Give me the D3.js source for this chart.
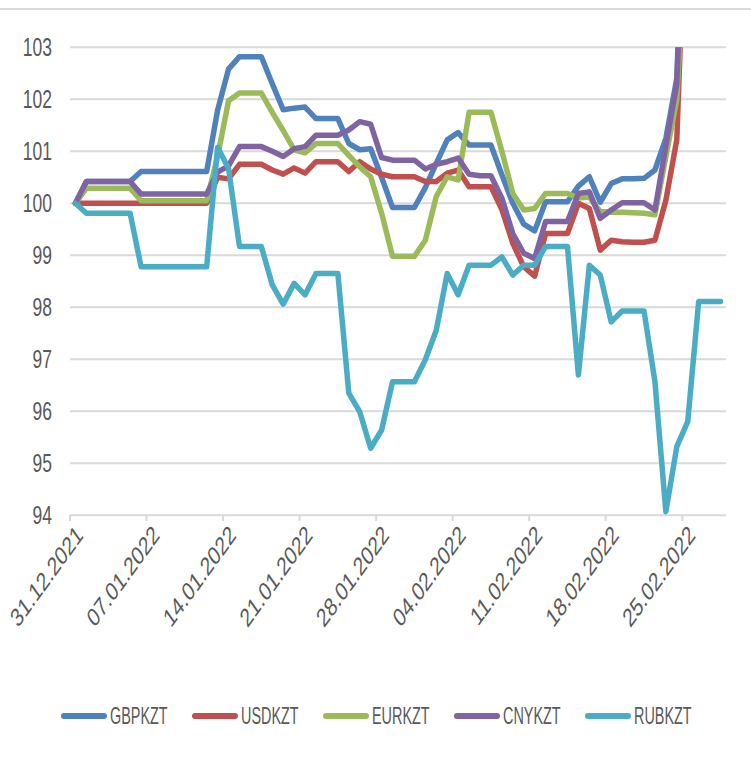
<!DOCTYPE html>
<html>
<head>
<meta charset="utf-8">
<script src="https://cdn.jsdelivr.net/npm/d3@7"></script>
<style>
  body { margin: 0; background: #fff; }
  svg { display: block; }
</style>
</head>
<body>
<svg id="chart" width="751" height="764"></svg>
<script>
// daily index, 31.12.2021 = 100 (31.12.2021 .. 28.02.2022)
const days = d3.timeDay.range(new Date(2021, 11, 31), new Date(2022, 2, 1));

const seriesNames = ["GBPKZT", "USDKZT", "EURKZT", "CNYKZT", "RUBKZT"];
const seriesColors = ["#4f81bd", "#c0504d", "#9bbb59", "#8064a2", "#4bacc6"];

// last values (from 25.02) run above the 103 axis max and are clipped, as in the source
const gbp = [100, 100.42, 100.42, 100.42, 100.42, 100.42, 100.61, 100.61, 100.61, 100.61,
  100.61, 100.61, 100.61, 101.79, 102.58, 102.82, 102.82, 102.82, 102.30, 101.80,
  101.83, 101.85, 101.63, 101.63, 101.63, 101.15, 101.03, 101.05, 100.50, 99.92,
  99.92, 99.92, 100.30, 100.77, 101.22, 101.36, 101.12, 101.12, 101.12, 100.55,
  100.00, 99.60, 99.47, 100.03, 100.03, 100.03, 100.33, 100.51, 100.02, 100.38,
  100.47, 100.47, 100.48, 100.64, 101.25, 102.40, 108.5, 110.0, 111.0, 112.5];
const usd = [100, 100.0, 100.0, 100.0, 100.0, 100.0, 100.0, 100.0, 100.0, 100.0,
  100.0, 100.0, 100.0, 100.50, 100.47, 100.75, 100.75, 100.75, 100.64, 100.56,
  100.68, 100.58, 100.80, 100.80, 100.80, 100.61, 100.80, 100.66, 100.56, 100.51,
  100.51, 100.51, 100.42, 100.42, 100.58, 100.64, 100.32, 100.32, 100.32, 99.88,
  99.23, 98.78, 98.60, 99.42, 99.42, 99.42, 100.00, 99.90, 99.10, 99.29,
  99.26, 99.25, 99.25, 99.29, 100.06, 101.22, 107.0, 108.5, 109.5, 111.0];
const eur = [100, 100.29, 100.29, 100.29, 100.29, 100.29, 100.05, 100.05, 100.05, 100.05,
  100.05, 100.05, 100.05, 100.90, 101.97, 102.12, 102.12, 102.12, 101.75, 101.40,
  101.03, 100.97, 101.15, 101.15, 101.15, 100.92, 100.70, 100.51, 99.81, 98.98,
  98.98, 98.98, 99.29, 100.13, 100.51, 100.45, 101.75, 101.75, 101.75, 101.00,
  100.19, 99.87, 99.90, 100.19, 100.19, 100.19, 100.10, 100.12, 99.84, 99.83,
  99.83, 99.82, 99.81, 99.78, 100.90, 101.99, 106.0, 107.5, 108.5, 110.0];
const cny = [100, 100.42, 100.42, 100.42, 100.42, 100.42, 100.18, 100.18, 100.18, 100.18,
  100.18, 100.18, 100.18, 100.60, 100.72, 101.09, 101.09, 101.09, 101.00, 100.90,
  101.05, 101.09, 101.31, 101.31, 101.31, 101.41, 101.57, 101.52, 100.88, 100.83,
  100.83, 100.83, 100.66, 100.75, 100.80, 100.87, 100.56, 100.53, 100.53, 100.10,
  99.42, 99.04, 98.94, 99.65, 99.65, 99.65, 100.19, 100.22, 99.71, 99.87,
  100.01, 100.01, 100.01, 99.87, 101.10, 102.30, 107.5, 109.0, 110.0, 111.5];
const rub = [100, 99.81, 99.81, 99.81, 99.81, 99.81, 98.78, 98.78, 98.78, 98.78,
  98.78, 98.78, 98.78, 101.08, 100.67, 99.17, 99.17, 99.17, 98.43, 98.06,
  98.46, 98.24, 98.65, 98.65, 98.65, 96.35, 95.99, 95.29, 95.64, 96.57,
  96.57, 96.57, 96.99, 97.56, 98.65, 98.24, 98.81, 98.81, 98.81, 98.97,
  98.62, 98.81, 98.81, 99.17, 99.17, 99.17, 96.70, 98.81, 98.62, 97.72,
  97.93, 97.93, 97.93, 96.57, 94.07, 95.32, 95.80, 98.11, 98.11, 98.11];
const seriesValues = [gbp, usd, eur, cny, rub];

const yTicks = [94, 95, 96, 97, 98, 99, 100, 101, 102, 103];
const xTickEvery = 7;

const svg = d3.select("#chart");
const fmt = d3.timeFormat("%d.%m.%Y");
const textColor = "#595959";
const gridColor = "#d9d9d9";

const x = d3.scaleBand().domain(days).range([70, 726]);
const y = d3.scaleLinear().domain([94, 103]).range([515.3, 47.3]);
const xc = d => x(d) + x.bandwidth() / 2;

// top border line
svg.append("line")
  .attr("x1", 0).attr("x2", 751).attr("y1", 9).attr("y2", 9)
  .attr("stroke", gridColor).attr("stroke-width", 2);

// horizontal gridlines
svg.append("g").selectAll("line")
  .data(yTicks).join("line")
  .attr("x1", 70).attr("x2", 726)
  .attr("y1", d => y(d)).attr("y2", d => y(d))
  .attr("stroke", gridColor).attr("stroke-width", 2);

// y labels (condensed look)
svg.append("g").selectAll("text")
  .data(yTicks).join("text")
  .attr("transform", d => `translate(52,${y(d)}) scale(0.7,1)`)
  .attr("text-anchor", "end")
  .attr("dy", "0.35em")
  .attr("font-family", "Liberation Sans, Arial, sans-serif")
  .attr("font-size", 25)
  .attr("fill", textColor)
  .text(d => d);

// x ticks and labels
const tickDays = days.filter((d, i) => i % xTickEvery === 0);
svg.append("g").selectAll("line")
  .data(tickDays).join("line")
  .attr("x1", d => x(d)).attr("x2", d => x(d))
  .attr("y1", 515).attr("y2", 521)
  .attr("stroke", gridColor).attr("stroke-width", 2);

svg.append("g").selectAll("text")
  .data(tickDays).join("text")
  .attr("transform", d => `translate(${xc(d) + 4},530) scale(0.72,1) rotate(-45)`)
  .attr("text-anchor", "end")
  .attr("dy", "0.35em")
  .attr("font-family", "Liberation Sans, Arial, sans-serif")
  .attr("font-size", 26)
  .attr("fill", textColor)
  .text(d => fmt(d));

// lines, clipped to the plot area
svg.append("clipPath").attr("id", "plotClip")
  .append("rect").attr("x", 60).attr("y", y(103)).attr("width", 680).attr("height", y(94) - y(103) + 10);

const line = d3.line()
  .x((v, i) => xc(days[i]))
  .y(v => y(v));

svg.append("g").attr("clip-path", "url(#plotClip)")
  .selectAll("path")
  .data(seriesValues).join("path")
  .attr("d", d => line(d))
  .attr("fill", "none")
  .attr("stroke", (d, i) => seriesColors[i])
  .attr("stroke-width", 5.5)
  .attr("stroke-linejoin", "round")
  .attr("stroke-linecap", "round");

// legend
const legend = svg.append("g").selectAll("g")
  .data(seriesNames).join("g")
  .attr("transform", (d, i) => `translate(${62 + i * 131},716)`);

legend.append("line")
  .attr("x1", 2).attr("x2", 42).attr("y1", 0).attr("y2", 0)
  .attr("stroke", (d, i) => seriesColors[i])
  .attr("stroke-width", 6)
  .attr("stroke-linecap", "round");

legend.append("text")
  .attr("transform", "translate(48,0) scale(0.6,1)")
  .attr("dy", "0.35em")
  .attr("font-family", "Liberation Sans, Arial, sans-serif")
  .attr("font-size", 24)
  .attr("fill", textColor)
  .text(d => d);
</script>
</body>
</html>
